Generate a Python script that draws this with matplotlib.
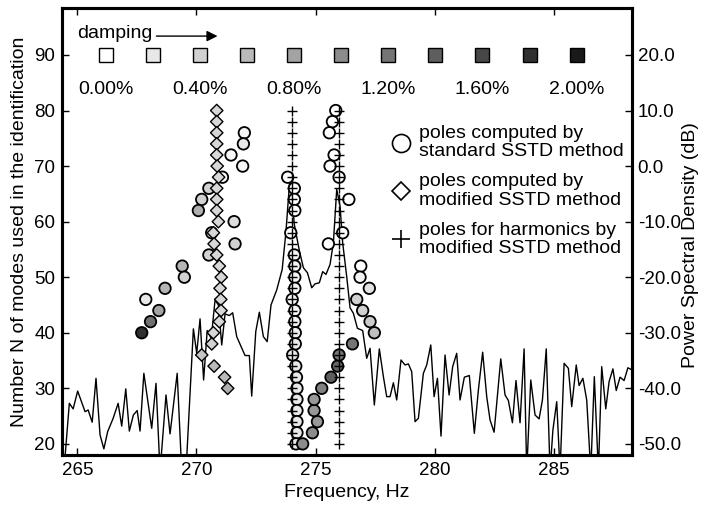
import numpy as np
import matplotlib
matplotlib.use("Agg")
import matplotlib.pyplot as plt

plt.rcParams.update({
    "font.family": ["Liberation Sans", "DejaVu Sans"],
    "font.size": 14,
    "axes.unicode_minus": False,
})

# power spectral density (right axis, dB); -55 = dips below the frame
psd_freq = [264.43, 264.66, 264.82, 265.01, 265.32, 265.45, 265.62, 265.78, 265.95, 266.11,
            266.27, 266.50, 266.71, 266.86, 267.03, 267.18, 267.35, 267.51, 267.63, 267.79,
            268.12, 268.30, 268.47, 268.72, 268.89, 269.19, 269.38, 269.56, 269.87, 270.01,
            270.15, 270.30, 270.45, 270.62, 270.78, 270.92, 271.06, 271.20, 271.38, 271.52,
            271.69, 272.04, 272.22, 272.32, 272.49, 272.64, 272.81, 272.97, 273.13, 273.37,
            273.60, 273.76, 273.93, 274.11, 274.31, 274.49, 274.66, 274.84, 274.98, 275.16,
            275.30, 275.44, 275.61, 275.75, 275.89, 276.03, 276.14, 276.31, 276.45, 276.59,
            276.76, 276.98, 277.15, 277.29, 277.47, 277.68, 277.85, 277.99, 278.13, 278.27,
            278.41, 278.59, 278.76, 278.90, 279.04, 279.18, 279.32, 279.53, 279.67, 279.84,
            279.98, 280.12, 280.27, 280.44, 280.61, 280.76, 280.93, 281.07, 281.25, 281.46,
            281.67, 281.84, 282.02, 282.19, 282.33, 282.50, 282.78, 282.96, 283.10, 283.27,
            283.42, 283.59, 283.76, 283.87, 284.04, 284.22, 284.39, 284.53, 284.69, 284.85,
            284.97, 285.13, 285.27, 285.44, 285.62, 285.76, 285.95, 286.07, 286.23, 286.39,
            286.56, 286.71, 286.88, 287.02, 287.19, 287.33, 287.49, 287.63, 287.79, 287.96,
            288.12, 288.30]
psd_db = [-55.0, -42.7, -43.7, -40.5, -44.2, -43.9, -46.1, -38.2, -48.4, -50.9,
          -47.8, -45.4, -42.7, -46.8, -40.1, -47.7, -44.8, -44.0, -47.7, -37.3,
          -47.2, -39.1, -55.0, -41.2, -48.2, -37.3, -55.0, -55.0, -29.3, -33.7,
          -27.5, -38.5, -29.6, -31.0, -24.1, -25.0, -32.2, -26.6, -26.9, -26.4,
          -30.7, -34.1, -34.1, -41.4, -29.8, -26.3, -30.7, -31.6, -25.0, -22.3,
          -18.6, -11.7, -1.8, -10.5, -15.0, -18.3, -19.2, -21.9, -21.2, -21.0,
          -19.0, -19.5, -17.7, -13.8, -4.2, -7.2, -13.8, -19.9, -25.5, -26.5,
          -29.2, -29.6, -34.6, -32.8, -43.0, -32.9, -37.9, -41.5, -41.5, -39.0,
          -42.1, -34.9, -35.8, -35.6, -37.0, -46.0, -45.4, -37.3, -35.8, -32.2,
          -41.5, -38.2, -48.6, -34.0, -41.2, -36.1, -33.7, -42.1, -38.0, -37.7,
          -48.1, -40.3, -33.5, -41.5, -45.7, -47.9, -34.7, -41.2, -42.2, -46.2,
          -38.6, -46.2, -32.9, -55.0, -38.5, -44.8, -45.5, -42.1, -32.9, -55.0,
          -47.5, -42.4, -55.0, -35.5, -36.4, -43.3, -35.8, -39.5, -38.2, -42.1,
          -55.0, -37.9, -55.0, -36.1, -43.7, -38.8, -36.5, -40.4, -38.0, -38.6,
          -36.3, -36.7]

# poles computed by standard SSTD method (frequency, modes, damping %)
std_freq = [272.01, 271.97, 271.45, 271.94, 271.09, 270.52, 270.22, 270.08, 271.58, 270.64,
            271.62, 270.52, 269.40, 269.49, 268.68, 267.87, 268.42, 268.07, 267.70,
            273.83, 274.11, 274.11, 274.13, 273.96, 274.11, 274.13, 274.13, 274.13, 274.02,
            274.13, 274.13, 274.15, 274.15, 274.04, 274.17, 274.20, 274.22, 274.22, 274.22,
            274.22, 274.22, 274.18,
            274.46, 274.87, 275.08, 274.94, 274.94, 275.26, 275.65, 275.93, 275.99, 276.55,
            275.85, 275.71, 275.58, 275.78, 275.61, 275.99, 276.40, 276.14, 275.54,
            276.90, 276.87, 277.26, 276.73, 276.98, 277.29, 277.47]
std_modes = [76, 74, 72, 70, 68, 66, 64, 62, 60, 58,
             56, 54, 52, 50, 48, 46, 44, 42, 40,
             68, 66, 64, 62, 58, 54, 52, 50, 48, 46,
             44, 42, 40, 38, 36, 34, 32, 30, 28, 26,
             24, 22, 20,
             20, 22, 24, 26, 28, 30, 32, 34, 36, 38,
             80, 78, 76, 72, 70, 68, 64, 58, 56,
             52, 50, 48, 46, 44, 42, 40]
std_damp = [0.1, 0.2, 0.05, 0.1, 0.0, 0.4, 0.4, 0.7, 0.3, 0.3,
            0.4, 0.4, 0.65, 0.4, 0.65, 0.2, 0.8, 1.25, 1.8,
            0.0, 0.0, 0.0, 0.0, 0.0, 0.1, 0.1, 0.1, 0.1, 0.1,
            0.1, 0.1, 0.15, 0.2, 0.2, 0.2, 0.2, 0.2, 0.2, 0.2,
            0.2, 0.2, 0.2,
            1.0, 1.0, 0.9, 0.9, 0.9, 1.1, 1.4, 1.35, 1.2, 1.2,
            0.0, 0.0, 0.0, 0.0, 0.0, 0.0, 0.0, 0.0, 0.0,
            0.0, 0.1, 0.25, 0.4, 0.4, 0.45, 0.55]

# poles computed by modified SSTD method
mod_freq = [270.85, 270.85, 270.85, 270.85, 270.85, 270.87, 270.93, 270.85, 270.85, 270.85,
            270.92, 270.71, 270.74, 270.85, 270.96, 271.04, 270.99, 271.02, 271.03, 270.96,
            270.71, 270.64, 270.22, 270.74, 271.18, 271.31]
mod_modes = [80, 78, 76, 74, 72, 70, 68, 66, 64, 62,
             60, 58, 56, 54, 52, 50, 48, 46, 44, 42,
             40, 38, 36, 34, 32, 30]
mod_damp = [0.35, 0.35, 0.35, 0.35, 0.35, 0.35, 0.35, 0.35, 0.35, 0.35,
            0.35, 0.35, 0.35, 0.35, 0.35, 0.35, 0.35, 0.35, 0.35, 0.35,
            0.35, 0.4, 0.5, 0.6, 0.6, 0.7]

# poles for harmonics by modified SSTD method
harm_freqs = [274.0, 276.0]
harm_modes = [20, 22, 24, 26, 28, 30, 32, 34, 36, 38, 40, 42, 44, 46, 48, 50,
              52, 54, 56, 58, 60, 62, 64, 66, 68, 70, 72, 74, 76, 78, 80]

# damping colour scale
damp_levels = [0.0, 0.2, 0.4, 0.6, 0.8, 1.0, 1.2, 1.4, 1.6, 1.8, 2.0]
damp_labels = ["0.00%", "0.40%", "0.80%", "1.20%", "1.60%", "2.00%"]


def gray(d):
    return str(round(1.0 - 0.45 * d, 3))


fig = plt.figure(figsize=(7.04, 5.07), dpi=100)
ax = fig.add_axes([0.088, 0.1026, 0.81, 0.881])
ax2 = ax.twinx()
ax.set_zorder(ax2.get_zorder() + 1)
ax.patch.set_visible(False)

ax.set_xlim(264.35, 288.3)
ax.set_ylim(18.0, 98.4)
ax2.set_ylim(18.0 - 70, 98.4 - 70)

ax2.plot(psd_freq, psd_db, color="k", lw=1.0)

ax.scatter(std_freq, std_modes, s=68, marker="o", c=[gray(d) for d in std_damp],
           edgecolors="k", linewidths=1.3, zorder=3)
ax.scatter(mod_freq, mod_modes, s=40, marker="D", c=[gray(d) for d in mod_damp],
           edgecolors="k", linewidths=1.0, zorder=3)
for hf in harm_freqs:
    ax.plot([hf] * len(harm_modes), harm_modes, ls="none", marker="+", ms=7,
            mew=1.0, color="k", zorder=4)

# damping scale across the top
sq_x = np.linspace(266.18, 285.97, len(damp_levels))
for xx, d in zip(sq_x, damp_levels):
    ax.plot(xx, 90, marker="s", ms=10, mfc=gray(d), mec="k", mew=1.0, ls="none")
for xx, lab in zip(sq_x[::2], damp_labels):
    ax.text(xx, 83.7, lab, ha="center", va="center")
ax.text(264.97, 93.8, "damping", ha="left", va="center")
ax.annotate("", xy=(271.0, 93.4), xytext=(268.2, 93.4),
            arrowprops=dict(arrowstyle="-|>", color="k", lw=1.0, mutation_scale=16))

# legend
leg_items = [("o", 13, "poles computed by\nstandard SSTD method"),
             ("D", 9, "poles computed by\nmodified SSTD method"),
             ("+", 13, "poles for harmonics by\nmodified SSTD method")]
for i, (mk, ms, lab) in enumerate(leg_items):
    yy = 74.2 - 8.7 * i
    ax.plot(278.6, yy, marker=mk, ms=ms, mfc="white", mec="k", mew=1.2, ls="none")
    ax.text(279.35, yy, lab, ha="left", va="center", linespacing=1.1)

ax.set_xticks([265, 270, 275, 280, 285])
ax.set_yticks([20, 30, 40, 50, 60, 70, 80, 90])
ax2.set_yticks([-50, -40, -30, -20, -10, 0, 10, 20])
ax2.set_yticklabels([f"{v:.1f}" for v in [-50, -40, -30, -20, -10, 0, 10, 20]])

ax.tick_params(direction="in", top=True, right=False, length=5, width=1, pad=5,
               labelsize=13.5)
ax2.tick_params(direction="in", length=5, width=1, pad=4, labelsize=13.5)
for a in (ax, ax2):
    for sp in a.spines.values():
        sp.set_linewidth(2.2)

ax.set_xlabel("Frequency, Hz")
ax.set_ylabel("Number N of modes used in the identification")
ax2.set_ylabel("Power Spectral Density (dB)")
ax2.yaxis.set_label_coords(1.087, 0.47)

fig.savefig("out.png", dpi=100)
